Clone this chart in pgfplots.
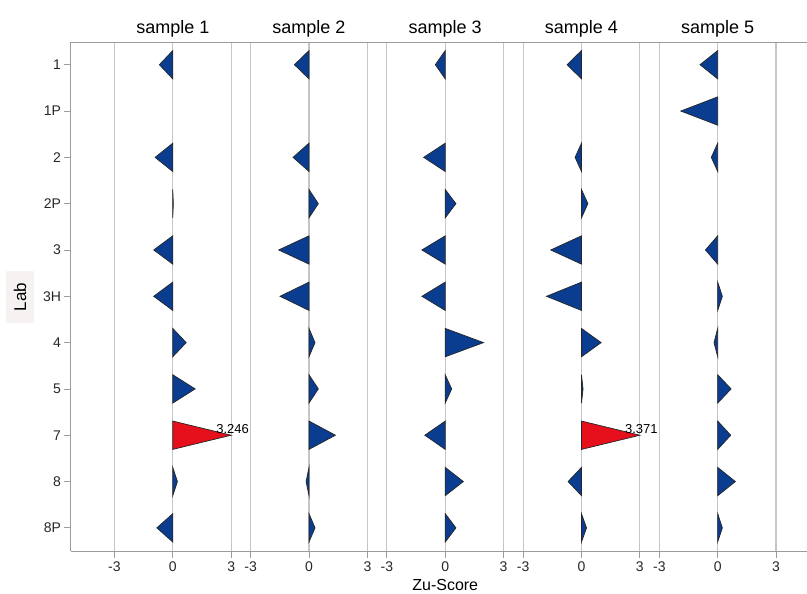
\documentclass[border=0pt]{standalone}
\usepackage{pgfplots}
\pgfplotsset{compat=1.18}
\usepgfplotslibrary{groupplots}
\usepackage{fontspec}
\setmainfont{Liberation Sans}

\definecolor{zublue}{HTML}{0A3D8F}
\definecolor{zured}{HTML}{E5101C}
\definecolor{gridgray}{HTML}{C6C6C6}
\definecolor{axgray}{HTML}{9C9C9C}
\definecolor{labbg}{HTML}{F6F2F2}

% one triangle: base on the zero line, apex at (z,row); z is capped at 3
\newcommand\zutri[3][zublue]{%
  \pgfmathsetmacro\ylo{#2-0.306}\pgfmathsetmacro\yhi{#2+0.306}%
  \pgfmathsetmacro\zx{min(#3,3)}%
  \edef\zutmp{\noexpand\addplot[draw=black!85, line width=0.7pt, fill=#1]
    coordinates {(0,\ylo) (\zx,#2) (0,\yhi)} -- cycle;}%
  \zutmp}

\pgfplotsset{
  zupanel/.style={
    scale only axis, height=509pt,
    ymin=0.52, ymax=11.51, y dir=reverse,
    clip=false,
    axis line style={draw=none},
    xtick={-3,0,3}, xticklabels={-3,0,3},
    xmajorgrids, grid style={gridgray, line width=1.2pt},
    tick pos=left, tick align=outside, major tick length=6.5pt,
    tick style={axgray, line width=0.8pt},
    ytick=\empty,
    tick label style={font=\fontsize{14}{16}\selectfont, text=black!85},
  }
}
\newcommand\paneltitle[1]{\node[anchor=base, font=\fontsize{18}{21}\selectfont]
  at ([yshift=9.2pt]axis cs:0,0.52) {#1};}

\begin{document}
\begin{tikzpicture}
\begin{groupplot}[group style={group size=5 by 1, horizontal sep=0pt}, zupanel]

\nextgroupplot[width=169.9pt, xmin=-5.23, xmax=3.5,
  ytick={1,...,11}, yticklabels={1,1P,2,2P,3,3H,4,5,7,8,8P}]
\paneltitle{sample 1}
\zutri{1}{-0.69}
\zutri{3}{-0.91}
\zutri{4}{0.03}
\zutri{5}{-0.98}
\zutri{6}{-0.98}
\zutri{7}{0.69}
\zutri{8}{1.15}
\zutri[zured]{9}{3.246}
\zutri{10}{0.24}
\zutri{11}{-0.82}
\node[anchor=south, inner sep=1pt, xshift=1.5pt, font=\fontsize{13}{15}\selectfont]
  at (axis cs:3,9) {3.246};

\nextgroupplot[width=136.25pt, xmin=-3.5, xmax=3.5]
\paneltitle{sample 2}
\zutri{1}{-0.75}
\zutri{3}{-0.82}
\zutri{4}{0.48}
\zutri{5}{-1.56}
\zutri{6}{-1.49}
\zutri{7}{0.31}
\zutri{8}{0.48}
\zutri{9}{1.36}
\zutri{10}{-0.15}
\zutri{11}{0.31}

\nextgroupplot[width=136.25pt, xmin=-3.5, xmax=3.5]
\paneltitle{sample 3}
\zutri{1}{-0.51}
\zutri{3}{-1.11}
\zutri{4}{0.55}
\zutri{5}{-1.20}
\zutri{6}{-1.20}
\zutri{7}{1.97}
\zutri{8}{0.33}
\zutri{9}{-1.05}
\zutri{10}{0.93}
\zutri{11}{0.55}

\nextgroupplot[width=136.25pt, xmin=-3.5, xmax=3.5]
\paneltitle{sample 4}
\zutri{1}{-0.74}
\zutri{3}{-0.33}
\zutri{4}{0.33}
\zutri{5}{-1.58}
\zutri{6}{-1.80}
\zutri{7}{1.01}
\zutri{8}{0.08}
\zutri[zured]{9}{3.371}
\zutri{10}{-0.69}
\zutri{11}{0.26}
\node[anchor=south, inner sep=1pt, xshift=1.5pt, font=\fontsize{13}{15}\selectfont]
  at (axis cs:3,9) {3.371};

\nextgroupplot[width=157.4pt, xmin=-3.5, xmax=4.59]
\paneltitle{sample 5}
\zutri{1}{-0.91}
\zutri{2}{-1.90}
\zutri{3}{-0.33}
\zutri{5}{-0.63}
\zutri{6}{0.24}
\zutri{7}{-0.19}
\zutri{8}{0.69}
\zutri{9}{0.67}
\zutri{10}{0.91}
\zutri{11}{0.24}
\end{groupplot}

% frame: top, bottom and left lines
\draw[axgray, line width=1pt] (group c1r1.north west) -- (group c5r1.north east);
\draw[axgray, line width=1pt] (group c1r1.south west) -- (group c5r1.south east);
\draw[axgray, line width=1pt] (group c1r1.south west) -- (group c1r1.north west);

\node[rotate=90, fill=labbg, inner xsep=12pt, inner ysep=8pt, font=\fontsize{17}{20}\selectfont]
  at ([xshift=-51pt]group c1r1.west) {Lab};
\node[anchor=base, font=\fontsize{16}{19}\selectfont]
  at ([yshift=-39pt]group c3r1.south) {Zu-Score};

\pgfresetboundingbox
\useasboundingbox ([xshift=-71pt,yshift=-42.5pt]group c1r1.south west)
  rectangle ([yshift=42.5pt]group c5r1.north east);
\end{tikzpicture}
\end{document}
